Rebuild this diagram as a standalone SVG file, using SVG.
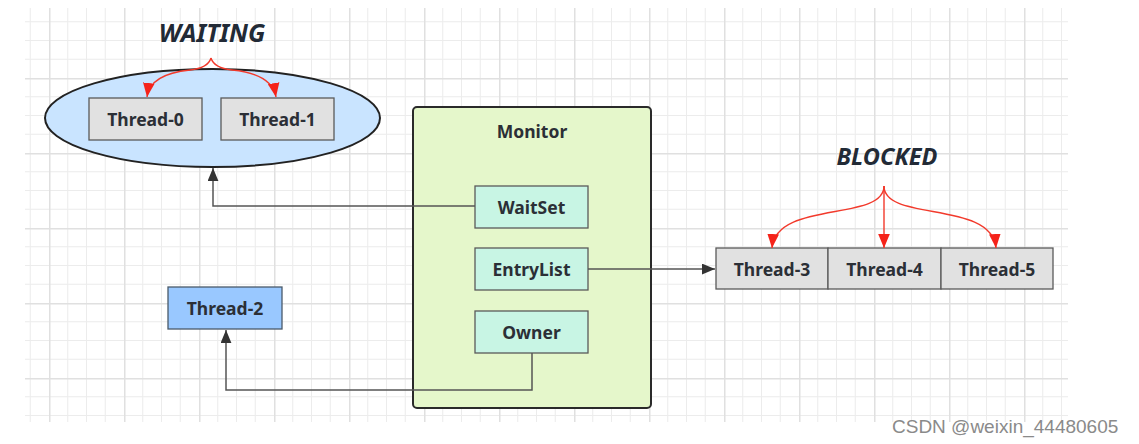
<svg xmlns="http://www.w3.org/2000/svg" width="1139" height="444" viewBox="0 0 1139 444">
<style>
.lbl{font-family:"Noto Sans","Open Sans","Liberation Sans",sans-serif;font-weight:bold;font-size:17.5px;fill:#2b2f36;text-anchor:middle;dominant-baseline:central}
.state{font-family:"Noto Sans","Open Sans","Liberation Sans",sans-serif;font-weight:bold;font-style:italic;fill:#222a36;text-anchor:middle}
.gray{fill:#e1e1e1;stroke:#5a5a5a;stroke-width:1.3}
.mint{fill:#c8f5e4;stroke:#5a5a5a;stroke-width:1.3}
.conn{fill:none;stroke:#555;stroke-width:1.5}
.red{fill:none;stroke:#f23a2c;stroke-width:1.4}
</style>
<defs>
<marker id="blk" viewBox="0 0 12 10" refX="12" refY="5" markerWidth="13" markerHeight="11" markerUnits="userSpaceOnUse" orient="auto">
<path d="M0,0 L12,5 L0,10 Z" fill="#333"/>
</marker>
<marker id="redh" viewBox="0 0 12 10" refX="12" refY="5" markerWidth="14" markerHeight="12" markerUnits="userSpaceOnUse" orient="auto">
<path d="M0,0 L12,5 L0,10 Z" fill="#f5231a"/>
</marker>
<pattern id="grid" x="49" y="3" width="75" height="75" patternUnits="userSpaceOnUse">
<rect x="18.25" y="0" width="1" height="75" fill="#ececec"/>
<rect x="37" y="0" width="1" height="75" fill="#ececec"/>
<rect x="55.75" y="0" width="1" height="75" fill="#ececec"/>
<rect x="0" y="18.25" width="75" height="1" fill="#ececec"/>
<rect x="0" y="37" width="75" height="1" fill="#ececec"/>
<rect x="0" y="55.75" width="75" height="1" fill="#ececec"/>
<rect x="0" y="0" width="1.5" height="75" fill="#e0e0e0"/>
<rect x="0" y="0" width="75" height="1.5" fill="#e0e0e0"/>
</pattern>
</defs>
<rect width="1139" height="444" fill="#ffffff"/>
<rect x="25" y="8" width="1043" height="414" fill="url(#grid)"/>

<g id="waiting-label"><text class="state" x="212" y="42" font-size="25">WAITING</text></g>
<g id="blocked-label"><text class="state" x="887" y="165" font-size="23.5">BLOCKED</text></g>

<g id="waiting-set">
<ellipse cx="212.5" cy="118" rx="167.5" ry="49" fill="#c9e4ff" stroke="#222" stroke-width="2"/>
</g>
<g id="thread-0"><rect class="gray" x="89" y="98" width="113" height="42"/><text class="lbl" x="145.5" y="119">Thread-0</text></g>
<g id="thread-1"><rect class="gray" x="221" y="98" width="113" height="42"/><text class="lbl" x="277.5" y="119">Thread-1</text></g>

<g id="monitor">
<rect x="413" y="107" width="238" height="301" rx="4" fill="#e5f7cb" stroke="#2a2a2a" stroke-width="2"/>
<text class="lbl" x="532" y="131">Monitor</text>
</g>
<g id="waitset"><rect class="mint" x="475" y="186" width="113" height="42"/><text class="lbl" x="531.5" y="207">WaitSet</text></g>
<g id="entrylist"><rect class="mint" x="475" y="248" width="113" height="42"/><text class="lbl" x="531.5" y="269">EntryList</text></g>
<g id="owner"><rect class="mint" x="475" y="311" width="113" height="42"/><text class="lbl" x="531.5" y="332">Owner</text></g>

<g id="thread-2"><rect x="168" y="287" width="114" height="42" fill="#99c8ff" stroke="#4a5a6a" stroke-width="1.3"/><text class="lbl" x="225" y="308">Thread-2</text></g>

<g id="thread-3"><rect class="gray" x="716" y="248" width="112" height="41"/><text class="lbl" x="772" y="268.5">Thread-3</text></g>
<g id="thread-4"><rect class="gray" x="828" y="248" width="113" height="41"/><text class="lbl" x="884.5" y="268.5">Thread-4</text></g>
<g id="thread-5"><rect class="gray" x="941" y="248" width="112" height="41"/><text class="lbl" x="997" y="268.5">Thread-5</text></g>

<g id="connectors">
<path class="conn" d="M475,206 H213 V168" marker-end="url(#blk)"/>
<path class="conn" d="M588,269 H715" marker-end="url(#blk)"/>
<path class="conn" d="M532,353 V390 H226 V330" marker-end="url(#blk)"/>
<path class="red" d="M211,58 Q208,68 190,70 Q150,74 147,97" marker-end="url(#redh)"/>
<path class="red" d="M211,58 Q214,68 232,70 Q272,74 276,97" marker-end="url(#redh)"/>
<path class="red" d="M884,186 C884,222 776,200 772,248" marker-end="url(#redh)"/>
<path class="red" d="M884,186 V248" marker-end="url(#redh)"/>
<path class="red" d="M884,186 C884,222 992,200 996,248" marker-end="url(#redh)"/>
</g>

<g id="watermark"><text x="892" y="433" font-family="'Liberation Sans',Arial,sans-serif" font-size="19" fill="#8a8a8a">CSDN @weixin_44480605</text></g>
</svg>
